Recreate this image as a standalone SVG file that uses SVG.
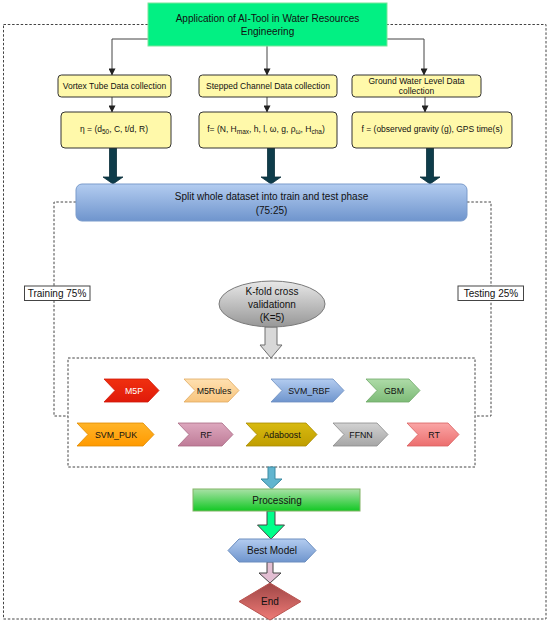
<svg xmlns="http://www.w3.org/2000/svg" width="550" height="622" viewBox="0 0 550 622">
<style>
text{font-family:"Liberation Sans",Arial,sans-serif;fill:#111;text-anchor:middle}
.t10{font-size:10px}
.t85{font-size:8.5px}
.t9{font-size:8.8px}
.dash{fill:none;stroke:#444;stroke-width:1;stroke-dasharray:2.5,1.8}
.conn{fill:none;stroke:#444;stroke-width:1}
.yel{fill:#FFF9AA;stroke:#333;stroke-width:1}
.lbl{fill:#fff;stroke:#444;stroke-width:1}
</style>
<defs>
<marker id="ah" viewBox="0 0 8 8" refX="7.5" refY="4" markerWidth="7" markerHeight="7" markerUnits="userSpaceOnUse" orient="auto">
<path d="M0,0 L8,4 L0,8 Z" fill="#222"/>
</marker>
<linearGradient id="gBlue" x1="0" y1="0" x2="0" y2="1"><stop offset="0" stop-color="#B3CCF0"/><stop offset="1" stop-color="#6F95CD"/></linearGradient>
<linearGradient id="gGray" x1="0" y1="0" x2="0" y2="1"><stop offset="0" stop-color="#E8E8E8"/><stop offset="1" stop-color="#979797"/></linearGradient>
<linearGradient id="gProc" x1="0" y1="0" x2="0" y2="1"><stop offset="0" stop-color="#A9E1A6"/><stop offset="1" stop-color="#12C824"/></linearGradient>
<linearGradient id="gEnd" x1="0" y1="0" x2="0" y2="1"><stop offset="0" stop-color="#9E4646"/><stop offset="1" stop-color="#EE7A76"/></linearGradient>
<linearGradient id="gM5P" x1="0" y1="0" x2="0" y2="1"><stop offset="0" stop-color="#F0300F"/><stop offset="1" stop-color="#E01A0A"/></linearGradient>
<linearGradient id="gM5R" x1="0" y1="0" x2="0" y2="1"><stop offset="0" stop-color="#FFE0B0"/><stop offset="1" stop-color="#F8C57E"/></linearGradient>
<linearGradient id="gGBM" x1="0" y1="0" x2="0" y2="1"><stop offset="0" stop-color="#AEDBA8"/><stop offset="1" stop-color="#7DBB77"/></linearGradient>
<linearGradient id="gPUK" x1="0" y1="0" x2="0" y2="1"><stop offset="0" stop-color="#FFB428"/><stop offset="1" stop-color="#FF9A00"/></linearGradient>
<linearGradient id="gRF" x1="0" y1="0" x2="0" y2="1"><stop offset="0" stop-color="#DDA8BE"/><stop offset="1" stop-color="#BF7C98"/></linearGradient>
<linearGradient id="gAda" x1="0" y1="0" x2="0" y2="1"><stop offset="0" stop-color="#D8BA10"/><stop offset="1" stop-color="#C09E00"/></linearGradient>
<linearGradient id="gFF" x1="0" y1="0" x2="0" y2="1"><stop offset="0" stop-color="#D2D2D2"/><stop offset="1" stop-color="#A6A6A6"/></linearGradient>
<linearGradient id="gRT" x1="0" y1="0" x2="0" y2="1"><stop offset="0" stop-color="#FAA6A6"/><stop offset="1" stop-color="#EC6E6E"/></linearGradient>
</defs>

<!-- outer dashed frame -->
<rect class="dash" x="3.5" y="24.5" width="542.5" height="594.5"/>
<!-- inner dashed frame -->
<rect class="dash" x="68" y="358" width="407" height="109"/>

<g id="connectors">
<path class="conn" d="M148,39 H112 V75" marker-end="url(#ah)"/>
<path class="conn" d="M267,46 V75" marker-end="url(#ah)"/>
<path class="conn" d="M387,39 H424 V75" marker-end="url(#ah)"/>
<path class="conn" d="M112,97 V112" marker-end="url(#ah)"/>
<path class="conn" d="M267,97 V112" marker-end="url(#ah)"/>
<path class="conn" d="M425,97 V112" marker-end="url(#ah)"/>
<!-- thick dark arrows -->
<polygon points="109.5,148 116.5,148 116.5,177 123,177 113,184 103,177 109.5,177" fill="#0E3C4A" stroke="#0A2E3A" stroke-width="0.8"/>
<polygon points="267.5,148 274.5,148 274.5,177 281,177 271,184 261,177 267.5,177" fill="#0E3C4A" stroke="#0A2E3A" stroke-width="0.8"/>
<polygon points="426.5,148 433.5,148 433.5,177 440,177 430,184 420,177 426.5,177" fill="#0E3C4A" stroke="#0A2E3A" stroke-width="0.8"/>
<!-- dashed split connectors -->
<path class="dash" d="M76,202 H54 V416 H68"/>
<path class="dash" d="M467,202 H491 V416 H475"/>
<!-- gray hollow arrow -->
<polygon points="265,327 277,327 277,345 282,345 271,358 260,345 265,345" fill="#D8D8D8" stroke="#6E6E6E" stroke-width="1"/>
<!-- blue arrow -->
<polygon points="268,467 275,467 275,479 282,479 271.5,489 261,479 268,479" fill="#62B5CF" stroke="#3C8BA3" stroke-width="1"/>
<!-- green arrow -->
<polygon points="267,511 275,511 275,525 284.5,525 271,539 257.5,525 267,525" fill="#00FF8A" stroke="#444" stroke-width="1"/>
<!-- pink arrow -->
<polygon points="267,562 273,562 273,573 281,573 270,583 259,573 267,573" fill="#E3BFD3" stroke="#444" stroke-width="1"/>
</g>

<g id="title">
<rect x="148" y="3" width="239" height="43" fill="#02F083" stroke="#7BE59A" stroke-width="1"/>
<text class="t10" x="267.5" y="22">Application of AI-Tool in Water Resources</text>
<text class="t10" x="267.5" y="35">Engineering</text>
</g>

<g id="vortex">
<rect class="yel" x="58" y="75" width="113" height="22" rx="3.5"/>
<text class="t85" x="114.5" y="89">Vortex Tube Data collection</text>
</g>
<g id="stepped">
<rect class="yel" x="199" y="75" width="138" height="22" rx="3.5"/>
<text class="t85" x="268" y="89">Stepped Channel Data collection</text>
</g>
<g id="ground">
<rect class="yel" x="352" y="75" width="129" height="22" rx="3.5"/>
<text class="t85" x="416.5" y="84">Ground Water Level Data</text>
<text class="t85" x="416.5" y="94">collection</text>
</g>

<g id="eta">
<rect class="yel" x="61" y="112" width="110" height="36" rx="4"/>
<text class="t85" x="114" y="132">η = (d<tspan font-size="6.5" dy="2">50</tspan><tspan dy="-2">, C, t/d, R)</tspan></text>
</g>
<g id="fstep">
<rect class="yel" x="199" y="112" width="138" height="36" rx="4"/>
<text class="t85" x="266" y="132">f= (N, H<tspan font-size="6.5" dy="2">max</tspan><tspan dy="-2">, h, l, ω, g, ρ</tspan><tspan font-size="6.5" dy="2">ω</tspan><tspan dy="-2">, H</tspan><tspan font-size="6.5" dy="2">cha</tspan><tspan dy="-2">)</tspan></text>
</g>
<g id="fground">
<rect class="yel" x="352" y="112" width="160" height="36" rx="4"/>
<text class="t85" x="432" y="132">f = (observed gravity (g), GPS time(s)</text>
</g>

<g id="split">
<rect x="76" y="184" width="391" height="37" rx="6" fill="url(#gBlue)" stroke="#7A9BCB" stroke-width="1"/>
<text class="t10" x="271.5" y="200">Split whole dataset into train and test phase</text>
<text class="t10" x="271.5" y="214">(75:25)</text>
</g>

<g id="training">
<rect class="lbl" x="24.5" y="286" width="65.5" height="14.5"/>
<text class="t10" x="57" y="297">Training 75%</text>
</g>
<g id="testing">
<rect class="lbl" x="458" y="286" width="65.5" height="14.5"/>
<text class="t10" x="491" y="297">Testing 25%</text>
</g>

<g id="kfold">
<ellipse cx="272" cy="304" rx="53" ry="23" fill="url(#gGray)" stroke="#7A7A7A" stroke-width="1"/>
<text class="t10" x="272" y="295">K-fold cross</text>
<text class="t10" x="272" y="308">validationn</text>
<text class="t10" x="272" y="321">(K=5)</text>
</g>

<g id="m5p">
<path d="M104,379 H148 L159,390.5 L148,402 H104 L115,390.5 Z" fill="url(#gM5P)" stroke="#D01808" stroke-width="0.8"/>
<text class="t9" x="134" y="393.5" style="fill:#fff">M5P</text>
</g>
<g id="m5rules">
<path d="M184,379 H228 L239,390.5 L228,402 H184 L195,390.5 Z" fill="url(#gM5R)" stroke="#E0AA60" stroke-width="0.8"/>
<text class="t9" x="214" y="393.5">M5Rules</text>
</g>
<g id="svmrbf">
<path d="M271,379 H333 L344,390.5 L333,402 H271 L282,390.5 Z" fill="url(#gBlue)" stroke="#6C8EBF" stroke-width="0.8"/>
<text class="t9" x="309" y="393.5">SVM_RBF</text>
</g>
<g id="gbm">
<path d="M366,379 H409 L420,390.5 L409,402 H366 L377,390.5 Z" fill="url(#gGBM)" stroke="#6FA868" stroke-width="0.8"/>
<text class="t9" x="394" y="393.5">GBM</text>
</g>
<g id="svmpuk">
<path d="M77,423 H143 L154,434.5 L143,446 H77 L88,434.5 Z" fill="url(#gPUK)" stroke="#E08A00" stroke-width="0.8"/>
<text class="t9" x="116" y="437.5">SVM_PUK</text>
</g>
<g id="rf">
<path d="M178,423 H222 L233,434.5 L222,446 H178 L189,434.5 Z" fill="url(#gRF)" stroke="#A86A84" stroke-width="0.8"/>
<text class="t9" x="206" y="437.5">RF</text>
</g>
<g id="adaboost">
<path d="M246,423 H306 L317,434.5 L306,446 H246 L257,434.5 Z" fill="url(#gAda)" stroke="#A88A00" stroke-width="0.8"/>
<text class="t9" x="282" y="437.5">Adaboost</text>
</g>
<g id="ffnn">
<path d="M333,423 H377 L388,434.5 L377,446 H333 L344,434.5 Z" fill="url(#gFF)" stroke="#8A8A8A" stroke-width="0.8"/>
<text class="t9" x="361" y="437.5">FFNN</text>
</g>
<g id="rt">
<path d="M407,423 H448 L459,434.5 L448,446 H407 L418,434.5 Z" fill="url(#gRT)" stroke="#D86060" stroke-width="0.8"/>
<text class="t9" x="434" y="437.5">RT</text>
</g>

<g id="processing">
<rect x="193" y="489" width="167" height="22" fill="url(#gProc)" stroke="#82B366" stroke-width="1"/>
<text class="t10" x="277" y="503.5">Processing</text>
</g>
<g id="bestmodel">
<path d="M239,539 H305 L316,550.5 L305,562 H239 L228,550.5 Z" fill="url(#gBlue)" stroke="#6C8EBF" stroke-width="1"/>
<text class="t10" x="272" y="554">Best Model</text>
</g>
<g id="end">
<path d="M270,583 L301,601.5 L270,620 L239,601.5 Z" fill="url(#gEnd)" stroke="#B85450" stroke-width="1"/>
<text class="t10" x="270" y="605">End</text>
</g>
</svg>
